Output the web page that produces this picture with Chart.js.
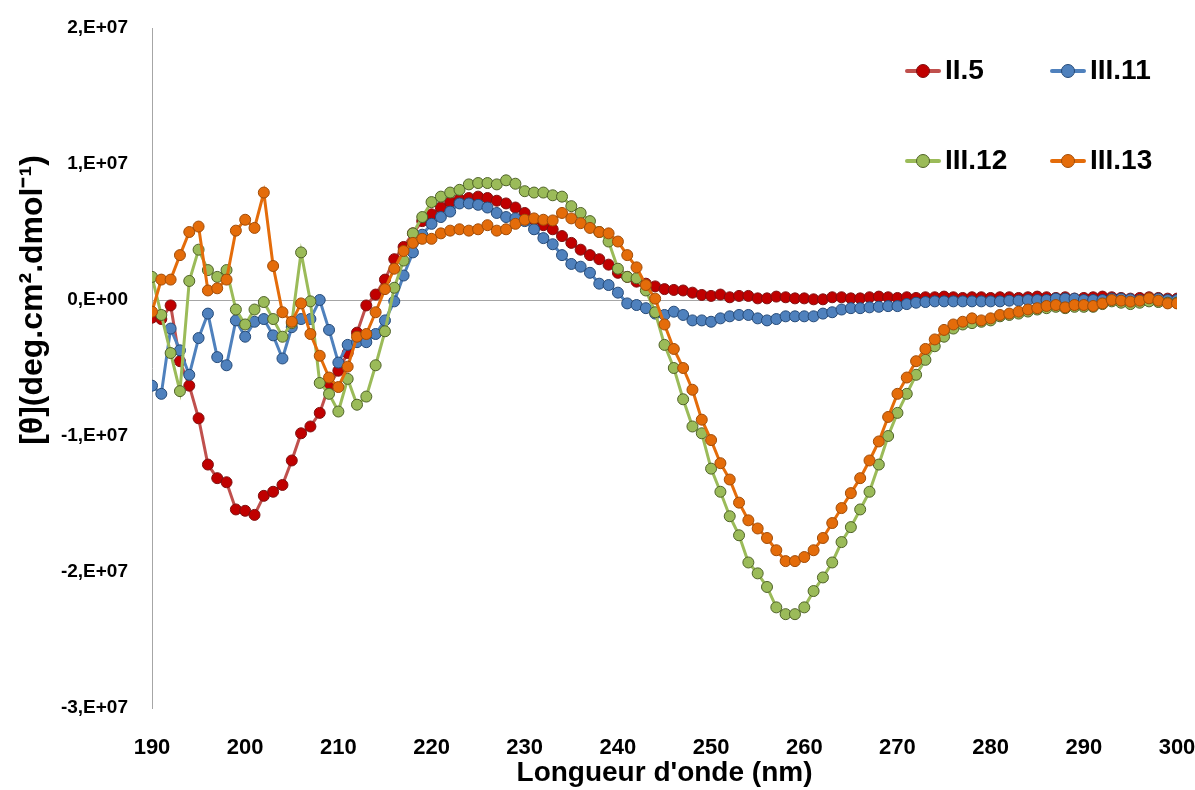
<!DOCTYPE html>
<html>
<head>
<meta charset="utf-8">
<script src="https://cdn.jsdelivr.net/npm/chart.js@4.4.1/dist/chart.umd.min.js"></script>
<style>
  html, body { margin: 0; padding: 0; background: #fff; }
  #wrap { position: relative; width: 1195px; height: 790px; }
  #cd-chart { display: block; }
  .leg-item { position: absolute; height: 30px; font: bold 28px 'Liberation Sans', Arial, sans-serif; color: #000; }
  .leg-line { position: absolute; left: 0; top: 13px; width: 36px; height: 4px; border-radius: 2px; }
  .leg-dot { position: absolute; left: 11px; top: 8px; width: 12px; height: 12px; border-radius: 50%; border: 1px solid; }
  .leg-text { position: absolute; left: 40px; top: -2px; white-space: nowrap; }
</style>
</head>
<body>
<div id="wrap">
  <canvas id="cd-chart" width="1195" height="790"></canvas>
  <div id="legend"></div>
</div>
<script>
'use strict';

// ---- Data ----

// wavelength, nm
const wavelengths = [
  190, 191, 192, 193, 194, 195, 196, 197, 198, 199,
  200, 201, 202, 203, 204, 205, 206, 207, 208, 209,
  210, 211, 212, 213, 214, 215, 216, 217, 218, 219,
  220, 221, 222, 223, 224, 225, 226, 227, 228, 229,
  230, 231, 232, 233, 234, 235, 236, 237, 238, 239,
  240, 241, 242, 243, 244, 245, 246, 247, 248, 249,
  250, 251, 252, 253, 254, 255, 256, 257, 258, 259,
  260, 261, 262, 263, 264, 265, 266, 267, 268, 269,
  270, 271, 272, 273, 274, 275, 276, 277, 278, 279,
  280, 281, 282, 283, 284, 285, 286, 287, 288, 289,
  290, 291, 292, 293, 294, 295, 296, 297, 298, 299,
  300,
];

// molar ellipticity, in units of 1E+07 deg.cm2.dmol-1
const ii5 = [
  -0.13, -0.14, -0.04, -0.45, -0.63, -0.87, -1.21, -1.31, -1.34, -1.54,
  -1.55, -1.58, -1.44, -1.41, -1.36, -1.18, -0.98, -0.93, -0.83, -0.63,
  -0.52, -0.39, -0.24, -0.04, 0.04, 0.15, 0.30, 0.39, 0.49, 0.58,
  0.63, 0.68, 0.72, 0.74, 0.75, 0.76, 0.75, 0.73, 0.71, 0.68,
  0.64, 0.59, 0.55, 0.52, 0.47, 0.42, 0.37, 0.33, 0.30, 0.26,
  0.20, 0.17, 0.135, 0.12, 0.10, 0.08, 0.074, 0.07, 0.054, 0.037,
  0.03, 0.04, 0.02, 0.03, 0.03, 0.012, 0.012, 0.025, 0.02, 0.012,
  0.012, 0.005, 0.005, 0.02, 0.02, 0.012, 0.012, 0.02, 0.025, 0.02,
  0.015, 0.02, 0.015, 0.02, 0.02, 0.025, 0.02, 0.015, 0.02, 0.02,
  0.015, 0.02, 0.02, 0.015, 0.02, 0.025, 0.02, 0.015, 0.02, 0.01,
  0.015, 0.02, 0.025, 0.02, 0.015, 0.01, 0.015, 0.02, 0.015, 0.01,
  0.01,
];

const iii11 = [
  -0.63, -0.69, -0.21, -0.37, -0.55, -0.28, -0.10, -0.42, -0.48, -0.15,
  -0.27, -0.16, -0.14, -0.26, -0.43, -0.20, -0.14, -0.14, 0.00, -0.22,
  -0.46, -0.33, -0.31, -0.31, -0.25, -0.15, -0.01, 0.18, 0.35, 0.48,
  0.56, 0.61, 0.65, 0.71, 0.71, 0.70, 0.68, 0.64, 0.61, 0.60,
  0.58, 0.52, 0.455, 0.41, 0.33, 0.265, 0.245, 0.20, 0.12, 0.11,
  0.054, -0.025, -0.037, -0.06, -0.10, -0.11, -0.086, -0.11, -0.15, -0.15,
  -0.16, -0.135, -0.12, -0.11, -0.11, -0.135, -0.15, -0.14, -0.12, -0.12,
  -0.12, -0.12, -0.10, -0.09, -0.07, -0.06, -0.06, -0.054, -0.05, -0.045,
  -0.045, -0.03, -0.02, -0.015, -0.01, -0.01, -0.01, -0.01, -0.01, -0.01,
  -0.01, -0.01, -0.005, -0.005, 0.0, 0.0, 0.0, 0.01, 0.01, 0.01,
  0.0, 0.0, 0.0, 0.01, 0.01, 0.005, 0.0, 0.005, 0.01, 0.0,
  0.0,
];

const iii12 = [
  0.17, -0.11, -0.39, -0.67, 0.14, 0.37, 0.22, 0.17, 0.22, -0.07,
  -0.18, -0.07, -0.015, -0.14, -0.27, -0.17, 0.35, -0.01, -0.61, -0.69,
  -0.82, -0.58, -0.77, -0.71, -0.48, -0.23, 0.09, 0.29, 0.49, 0.61,
  0.72, 0.76, 0.79, 0.81, 0.85, 0.86, 0.86, 0.85, 0.88, 0.855,
  0.80, 0.79, 0.79, 0.77, 0.76, 0.69, 0.64, 0.58, 0.50, 0.43,
  0.23, 0.17, 0.16, 0.07, -0.09, -0.33, -0.50, -0.73, -0.93, -0.98,
  -1.24, -1.41, -1.59, -1.73, -1.93, -2.01, -2.11, -2.26, -2.31, -2.31,
  -2.26, -2.14, -2.04, -1.93, -1.78, -1.67, -1.54, -1.41, -1.21, -1.00,
  -0.83, -0.69, -0.55, -0.44, -0.34, -0.27, -0.21, -0.18, -0.17, -0.16,
  -0.15, -0.12, -0.11, -0.10, -0.085, -0.07, -0.06, -0.05, -0.06, -0.05,
  -0.05, -0.05, -0.03, -0.01, -0.02, -0.03, -0.02, -0.01, -0.015, -0.02,
  -0.02,
];

const iii13 = [
  -0.086, 0.15, 0.15, 0.33, 0.50, 0.54, 0.07, 0.086, 0.15, 0.51,
  0.59, 0.53, 0.79, 0.25, -0.09, -0.16, -0.025, -0.25, -0.41, -0.57,
  -0.64, -0.49, -0.27, -0.25, -0.09, 0.08, 0.23, 0.36, 0.42, 0.45,
  0.45, 0.49, 0.51, 0.52, 0.51, 0.52, 0.55, 0.51, 0.52, 0.56,
  0.59, 0.60, 0.59, 0.585, 0.64, 0.60, 0.565, 0.53, 0.50, 0.49,
  0.43, 0.33, 0.24, 0.11, 0.01, -0.18, -0.36, -0.50, -0.66, -0.88,
  -1.03, -1.20, -1.32, -1.49, -1.62, -1.68, -1.75, -1.84, -1.92, -1.92,
  -1.89, -1.84, -1.75, -1.64, -1.53, -1.42, -1.31, -1.18, -1.04, -0.86,
  -0.69, -0.57, -0.45, -0.36, -0.29, -0.22, -0.18, -0.16, -0.135, -0.15,
  -0.135, -0.11, -0.10, -0.086, -0.07, -0.06, -0.044, -0.037, -0.054, -0.037,
  -0.037, -0.044, -0.025, 0.0, -0.005, -0.012, -0.005, 0.012, -0.005, -0.025,
  -0.025,
];

const yTickValues = [-3, -2, -1, 0, 1, 2];
const yTickLabels = ['-3,E+07', '-2,E+07', '-1,E+07', '0,E+00', '1,E+07', '2,E+07'];

const xTitle = "Longueur d'onde (nm)";
const yTitle = '[θ](deg.cm².dmol⁻¹)';

// ---- Series styles ----

const series = [
  { label: 'II.5',   values: ii5,   line: '#C0504D', fill: '#C00000', edge: '#7F1010', order: 4 },
  { label: 'III.11', values: iii11, line: '#4F81BD', fill: '#4F81BD', edge: '#254A78', order: 3 },
  { label: 'III.12', values: iii12, line: '#9BBB59', fill: '#9BBB59', edge: '#4F6228', order: 2 },
  { label: 'III.13', values: iii13, line: '#E46C0A', fill: '#E46C0A', edge: '#A04C08', order: 1 },
];

const FONT = "'Liberation Sans', Arial, sans-serif";

// ---- Legend (2 x 2 grid, top right) ----

function buildLegend() {
  const spots = [[905, 56], [1050, 56], [905, 146], [1050, 146]];
  const box = document.getElementById('legend');
  series.forEach((s, i) => {
    const item = document.createElement('div');
    item.className = 'leg-item';
    item.style.left = spots[i][0] + 'px';
    item.style.top = spots[i][1] + 'px';
    item.innerHTML =
      `<span class="leg-line" style="background:${s.line}"></span>` +
      `<span class="leg-dot" style="background:${s.fill};border-color:${s.edge}"></span>` +
      `<span class="leg-text">${s.label}</span>`;
    box.appendChild(item);
  });
}

// y title sits a bit above the plot centre, as in the original, so draw it by hand
const yTitlePlugin = {
  id: 'yTitle',
  afterDraw(chart) {
    const c = chart.ctx;
    c.save();
    c.translate(33, 300);
    c.rotate(-Math.PI / 2);
    c.font = `bold 32px ${FONT}`;
    c.fillStyle = '#000';
    c.textAlign = 'center';
    c.textBaseline = 'middle';
    c.fillText(yTitle, 0, 0);
    c.restore();
  },
};

// ---- Chart ----

function buildChart() {
  const datasets = series.map(s => ({
    label: s.label,
    data: wavelengths.map((w, i) => ({ x: w, y: s.values[i] })),
    borderColor: s.line,
    borderWidth: 3,
    backgroundColor: s.fill,
    pointBackgroundColor: s.fill,
    pointBorderColor: s.edge,
    pointBorderWidth: 1,
    pointRadius: 5.5,
    tension: 0,
    order: s.order,
  }));

  const ctx = document.getElementById('cd-chart').getContext('2d');
  return new Chart(ctx, {
    type: 'line',
    data: { datasets },
    plugins: [yTitlePlugin],
    options: {
      responsive: false,
      animation: false,
      layout: { padding: { top: 28, right: 18, left: 0, bottom: 0 } },
      plugins: {
        legend: { display: false },
        tooltip: { enabled: false },
      },
      scales: {
        x: {
          type: 'linear',
          min: 190,
          max: 300,
          afterFit: scale => {
            scale.height = 82;
            scale.paddingLeft = 0;
            scale.paddingRight = 0;
          },
          border: { display: false },
          grid: { display: false, drawTicks: false },
          ticks: {
            stepSize: 10,
            padding: 27,
            color: '#000',
            maxRotation: 0,
            font: { family: FONT, size: 22, weight: 'bold' },
          },
          title: {
            display: true,
            text: xTitle,
            color: '#000',
            padding: { top: 0, bottom: 0 },
            font: { family: FONT, size: 28, weight: 'bold' },
          },
        },
        y: {
          min: -3,
          max: 2,
          afterFit: scale => {
            scale.width = 152;
            scale.paddingTop = 0;
            scale.paddingBottom = 0;
          },
          afterBuildTicks: scale => { scale.ticks = yTickValues.map(v => ({ value: v })); },
          border: { display: true, color: '#A6A6A6', width: 1 },
          grid: {
            drawTicks: false,
            color: c => (c.tick && c.tick.value === 0 ? '#A6A6A6' : 'rgba(0,0,0,0)'),
            lineWidth: 1,
          },
          ticks: {
            padding: 24,
            color: '#000',
            font: { family: FONT, size: 19, weight: 'bold' },
            callback: v => yTickLabels[yTickValues.indexOf(v)],
          },
        },
      },
    },
  });
}

buildLegend();
buildChart();
</script>
</body>
</html>
